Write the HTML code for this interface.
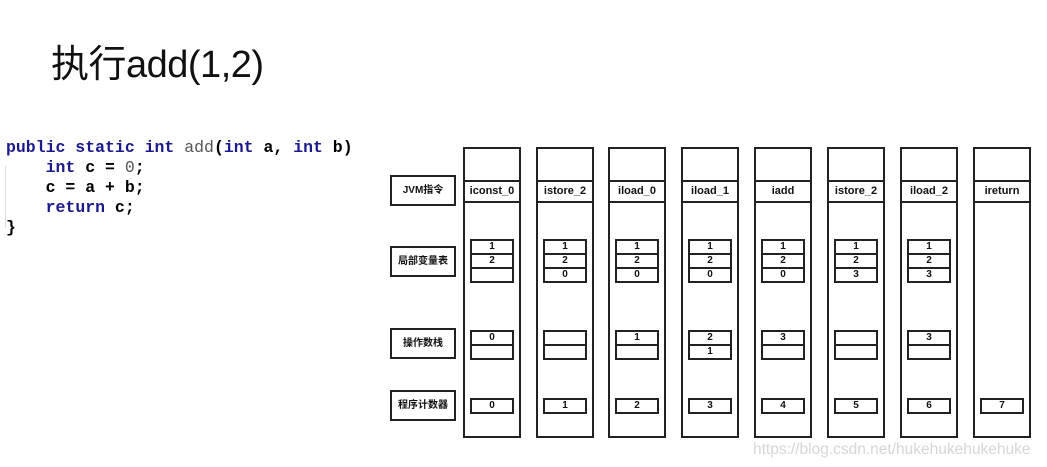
<!DOCTYPE html>
<html><head><meta charset="utf-8"><style>
body{margin:0;width:1047px;height:467px;background:#fff;position:relative;overflow:hidden;font-family:"Liberation Sans","Noto Sans CJK SC",sans-serif}
.a{position:absolute;box-sizing:border-box}
.col{border:2px solid #222;width:58px;top:147px;height:291px}
.hd{border-top:2px solid #222;border-bottom:2px solid #222;left:-2px;width:58px;top:31px;height:23px;font-size:11px;font-weight:bold;text-align:center;line-height:19px;color:#111}
.c{border:2px solid #222;width:44px;left:5px;height:16px;font-size:10px;font-weight:bold;text-align:center;line-height:12px;color:#111}
.lb{border:2px solid #222;left:390px;width:66px;height:31px;font-size:10px;font-weight:bold;text-align:center;line-height:27px;color:#111}
pre{margin:0;position:absolute;left:6px;top:138px;font-family:"Liberation Mono",monospace;font-size:16.5px;line-height:20px;font-weight:bold;color:#000}
.k{color:#1a1a8c}.g{color:#555;font-weight:normal}
</style></head><body>
<div class="a" style="left:51px;top:33px;font-size:38px;color:#111;letter-spacing:-0.5px">执行add(1,2)</div>
<pre><span class="k">public static int</span> <span class="g">add</span>(<span class="k">int</span> a, <span class="k">int</span> b)
    <span class="k">int</span> c = <span class="g">0</span>;
    c = a + b;
    <span class="k">return</span> c;
}</pre>
<div class="a" style="left:5px;top:166px;width:1px;height:62px;background:#ddd"></div>
<div class="a lb" style="top:175px">JVM指令</div>
<div class="a lb" style="top:246px">局部变量表</div>
<div class="a lb" style="top:328px">操作数栈</div>
<div class="a lb" style="top:390px">程序计数器</div>
<div id="cols"></div>
<div class="a" style="left:753px;top:441px;font-size:15.5px;color:#d6d6d6;white-space:nowrap">https://blog.csdn.net/hukehukehukehuke</div>
<script>
var xs=[463,536,608,681,754,827,900,973];
var d=[["iconst_0",["1","2",""],["0",""],"0"],["istore_2",["1","2","0"],["",""],"1"],["iload_0",["1","2","0"],["1",""],"2"],["iload_1",["1","2","0"],["2","1"],"3"],["iadd",["1","2","0"],["3",""],"4"],["istore_2",["1","2","3"],["",""],"5"],["iload_2",["1","2","3"],["3",""],"6"],["ireturn",null,null,"7"]];
var h="";
for(var i=0;i<8;i++){var x=xs[i],r=d[i];
h+='<div class="a col" style="left:'+x+'px"><div class="a hd">'+r[0]+'</div>';
if(r[1]){for(var j=0;j<3;j++)h+='<div class="a c" style="top:'+(90+j*14)+'px">'+r[1][j]+'</div>';}
if(r[2]){for(var j=0;j<2;j++)h+='<div class="a c" style="top:'+(181+j*14)+'px">'+r[2][j]+'</div>';}
h+='<div class="a c" style="top:249px">'+r[3]+'</div></div>';}
document.getElementById("cols").innerHTML=h;
</script>
</body></html>
